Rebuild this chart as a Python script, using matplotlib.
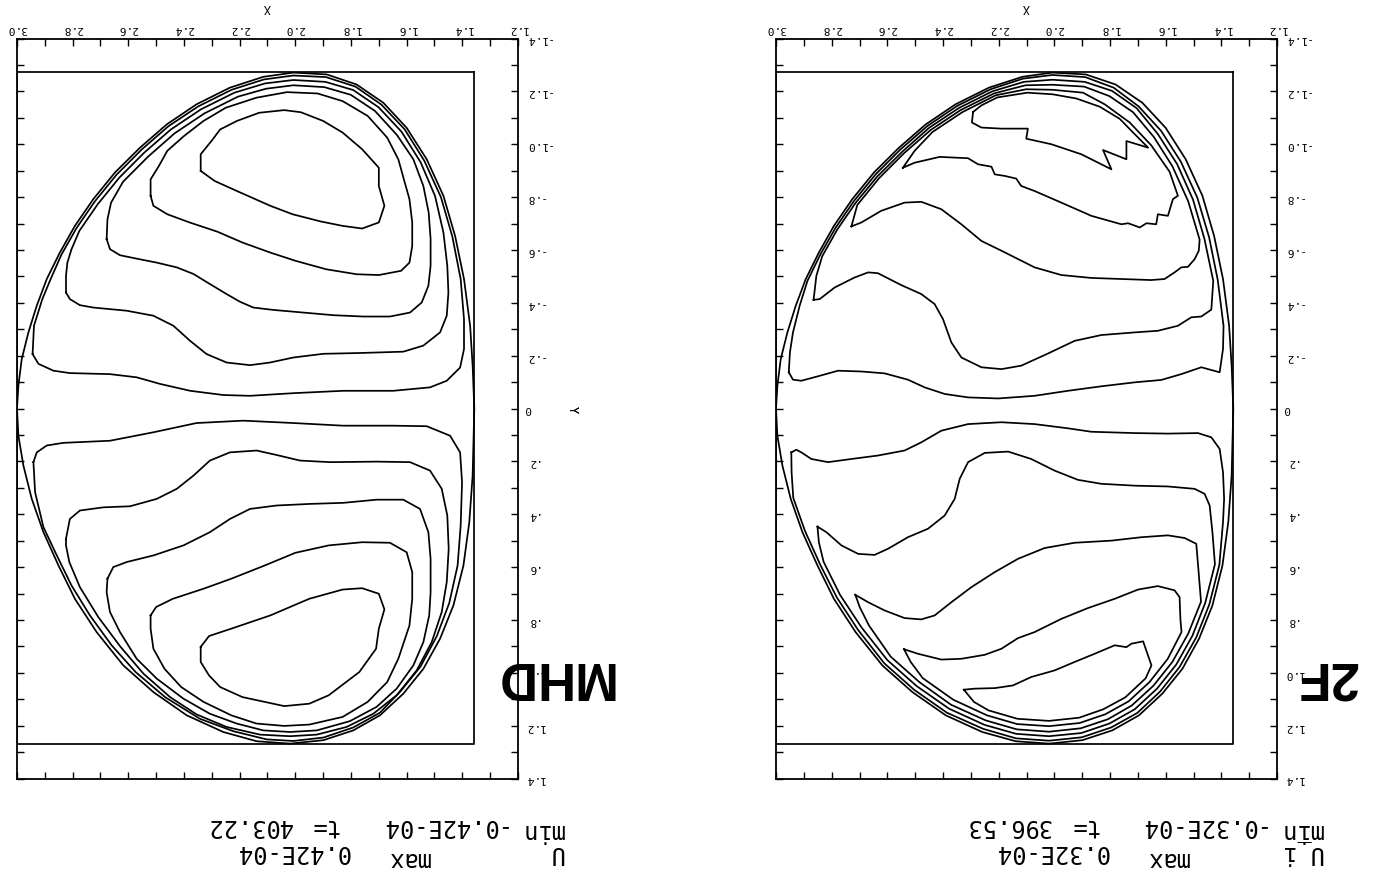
import matplotlib
matplotlib.use("Agg")
import matplotlib.pyplot as plt
from matplotlib.ticker import MultipleLocator

# ---------------- data ----------------
# domain wall contour (outermost line, same in both panels)
wall_x = [3.000, 2.995, 2.983, 2.959, 2.929, 2.893, 2.846, 2.792, 2.726, 2.648, 2.558, 2.462, 2.355,
          2.235, 2.115, 2.007, 1.887, 1.780, 1.684, 1.600, 1.528, 1.468, 1.426, 1.394, 1.372, 1.363,
          1.357, 1.363, 1.375, 1.396, 1.432, 1.480, 1.540, 1.612, 1.696, 1.792, 1.899, 2.019, 2.139,
          2.259, 2.390, 2.510, 2.618, 2.714, 2.792, 2.851, 2.905, 2.947, 2.977, 2.995, 3.000]
wall_y = [0.000, -0.086, -0.187, -0.288, -0.389, -0.490, -0.590, -0.691, -0.792, -0.893, -0.987,
          -1.075, -1.151, -1.214, -1.255, -1.271, -1.264, -1.226, -1.157, -1.062, -0.943, -0.805,
          -0.653, -0.490, -0.313, -0.162, 0.000, 0.254, 0.430, 0.594, 0.745, 0.871, 0.985, 1.079,
          1.161, 1.218, 1.255, 1.268, 1.259, 1.224, 1.161, 1.073, 0.972, 0.846, 0.720, 0.594, 0.468,
          0.342, 0.216, 0.103, 0.000]
box_x = [1.357, 3.0]
box_y = [-1.274, 1.270]

# MHD panel, upper half contours
mhd_u1_x = [2.34, 2.34, 2.30, 2.27, 2.21, 2.13, 2.04, 1.98, 1.90, 1.83, 1.76, 1.70, 1.70, 1.68, 1.70,
            1.76, 1.83, 1.91, 2.01, 2.09, 2.21, 2.29, 2.34]
mhd_u1_y = [-0.899, -0.962, -1.014, -1.056, -1.088, -1.119, -1.129, -1.121, -1.088, -1.044, -0.981,
            -0.911, -0.842, -0.767, -0.704, -0.681, -0.691, -0.708, -0.735, -0.767, -0.823, -0.861, -0.899]
mhd_u2_x = [2.52, 2.52, 2.49, 2.46, 2.40, 2.33, 2.25, 2.14, 2.03, 1.92, 1.83, 1.74, 1.67, 1.63, 1.61,
            1.59, 1.58, 1.58, 1.59, 1.62, 1.70, 1.78, 1.89, 2.00, 2.09, 2.19, 2.28, 2.38, 2.46, 2.51, 2.52]
mhd_u2_y = [-0.805, -0.867, -0.918, -0.975, -1.031, -1.088, -1.138, -1.176, -1.197, -1.192, -1.163,
            -1.107, -1.025, -0.943, -0.867, -0.792, -0.704, -0.615, -0.552, -0.521, -0.505, -0.508,
            -0.527, -0.559, -0.590, -0.628, -0.669, -0.704, -0.735, -0.767, -0.805]
mhd_u3_x = [2.678, 2.675, 2.662, 2.619, 2.529, 2.434, 2.326, 2.206, 2.105, 2.007, 1.896, 1.801, 1.714,
            1.635, 1.576, 1.540, 1.521, 1.514, 1.514, 1.522, 1.546, 1.588, 1.660, 1.756, 1.863, 1.971,
            2.079, 2.151, 2.199, 2.247, 2.307, 2.366, 2.426, 2.498, 2.570, 2.630, 2.666, 2.678]
mhd_u3_y = [-0.641, -0.716, -0.779, -0.858, -0.953, -1.041, -1.117, -1.180, -1.210, -1.223, -1.216,
            -1.187, -1.126, -1.035, -0.943, -0.842, -0.742, -0.641, -0.540, -0.464, -0.401, -0.363,
            -0.348, -0.348, -0.353, -0.363, -0.373, -0.382, -0.404, -0.433, -0.471, -0.509, -0.534,
            -0.552, -0.567, -0.580, -0.603, -0.641]
mhd_u4_x = [2.824, 2.824, 2.819, 2.804, 2.776, 2.710, 2.632, 2.543, 2.447, 2.339, 2.219, 2.109, 2.007,
            1.892, 1.792, 1.701, 1.619, 1.550, 1.498, 1.468, 1.454, 1.450, 1.456, 1.480, 1.540, 1.612,
            1.768, 1.899, 2.007, 2.091, 2.163, 2.247, 2.319, 2.378, 2.438, 2.510, 2.606, 2.726, 2.774,
            2.810, 2.824]
mhd_u4_y = [-0.439, -0.502, -0.552, -0.603, -0.672, -0.773, -0.874, -0.968, -1.056, -1.132, -1.195,
            -1.230, -1.243, -1.236, -1.205, -1.140, -1.048, -0.932, -0.804, -0.666, -0.540, -0.439,
            -0.351, -0.288, -0.238, -0.215, -0.210, -0.207, -0.193, -0.174, -0.164, -0.174, -0.206,
            -0.256, -0.313, -0.351, -0.370, -0.382, -0.391, -0.414, -0.439]
mhd_u5_x = [2.944, 2.939, 2.909, 2.879, 2.840, 2.786, 2.720, 2.642, 2.552, 2.456, 2.349, 2.229, 2.113,
            2.007, 1.890, 1.784, 1.691, 1.607, 1.537, 1.477, 1.436, 1.406, 1.394, 1.394, 1.408, 1.456,
            1.516, 1.648, 1.828, 2.007, 2.163, 2.259, 2.378, 2.486, 2.570, 2.666, 2.810, 2.869, 2.923,
            2.944]
mhd_u5_y = [-0.206, -0.313, -0.414, -0.490, -0.583, -0.683, -0.784, -0.885, -0.980, -1.068, -1.143,
            -1.206, -1.245, -1.260, -1.254, -1.218, -1.150, -1.056, -0.938, -0.800, -0.651, -0.490,
            -0.338, -0.225, -0.155, -0.105, -0.080, -0.067, -0.067, -0.058, -0.048, -0.051, -0.067,
            -0.093, -0.118, -0.130, -0.134, -0.143, -0.169, -0.206]

# MHD panel, lower half contours
mhd_l1_x = [2.34, 2.34, 2.31, 2.27, 2.19, 2.04, 1.95, 1.88, 1.77, 1.71, 1.70, 1.68, 1.70, 1.76, 1.83,
            1.95, 2.09, 2.23, 2.31, 2.34]
mhd_l1_y = [0.902, 0.959, 1.010, 1.054, 1.092, 1.126, 1.117, 1.085, 0.997, 0.909, 0.833, 0.760, 0.701,
            0.680, 0.685, 0.720, 0.783, 0.833, 0.861, 0.902]
mhd_l2_x = [2.52, 2.50, 2.44, 2.33, 2.23, 2.11, 2.00, 1.88, 1.76, 1.66, 1.60, 1.58, 1.58, 1.59, 1.63,
            1.67, 1.74, 1.83, 1.95, 2.04, 2.14, 2.23, 2.33, 2.41, 2.47, 2.51, 2.52, 2.52]
mhd_l2_y = [0.783, 0.751, 0.720, 0.682, 0.644, 0.594, 0.546, 0.518, 0.506, 0.508, 0.544, 0.619, 0.720,
            0.821, 0.947, 1.035, 1.110, 1.167, 1.196, 1.201, 1.192, 1.161, 1.110, 1.054, 0.985, 0.909,
            0.833, 0.783]
mhd_l3_x = [2.675, 2.654, 2.606, 2.510, 2.402, 2.307, 2.235, 2.163, 2.067, 1.947, 1.828, 1.708, 1.612,
            1.552, 1.522, 1.514, 1.514, 1.519, 1.540, 1.576, 1.636, 1.708, 1.804, 1.923, 2.019, 2.115,
            2.211, 2.307, 2.402, 2.498, 2.570, 2.630, 2.666, 2.678, 2.675]
mhd_l3_y = [0.644, 0.600, 0.581, 0.556, 0.518, 0.468, 0.418, 0.380, 0.367, 0.361, 0.357, 0.345, 0.345,
            0.380, 0.468, 0.569, 0.695, 0.783, 0.884, 0.972, 1.060, 1.129, 1.183, 1.218, 1.224, 1.218,
            1.192, 1.155, 1.098, 1.022, 0.947, 0.846, 0.770, 0.695, 0.644]
mhd_l4_x = [2.824, 2.810, 2.774, 2.690, 2.594, 2.498, 2.426, 2.366, 2.307, 2.235, 2.139, 2.067, 1.983,
            1.875, 1.708, 1.588, 1.516, 1.474, 1.454, 1.449, 1.456, 1.474, 1.510, 1.564, 1.636, 1.720,
            1.816, 1.923, 2.019, 2.127, 2.247, 2.354, 2.450, 2.546, 2.628, 2.708, 2.774, 2.812, 2.824,
            2.824]
mhd_l4_y = [0.493, 0.418, 0.386, 0.374, 0.370, 0.342, 0.304, 0.254, 0.197, 0.166, 0.159, 0.176, 0.197,
            0.203, 0.201, 0.203, 0.235, 0.304, 0.405, 0.531, 0.657, 0.770, 0.884, 0.991, 1.085, 1.155,
            1.205, 1.234, 1.240, 1.234, 1.205, 1.158, 1.092, 1.003, 0.902, 0.789, 0.676, 0.581, 0.518,
            0.493]
mhd_l5_x = [2.941, 2.935, 2.905, 2.857, 2.804, 2.738, 2.660, 2.574, 2.468, 2.343, 2.223, 2.103, 2.007,
            1.899, 1.792, 1.696, 1.622, 1.550, 1.492, 1.447, 1.417, 1.406, 1.401, 1.408, 1.444, 1.528,
            1.648, 1.828, 2.007, 2.187, 2.355, 2.510, 2.666, 2.834, 2.893, 2.929, 2.941]
mhd_l5_y = [0.203, 0.317, 0.449, 0.556, 0.670, 0.783, 0.896, 0.997, 1.092, 1.174, 1.221, 1.252, 1.258,
            1.245, 1.207, 1.151, 1.070, 0.976, 0.862, 0.736, 0.594, 0.443, 0.279, 0.166, 0.103, 0.067,
            0.065, 0.065, 0.055, 0.046, 0.055, 0.090, 0.122, 0.130, 0.140, 0.166, 0.203]

# 2F panel, upper half contours
tf_u1_x = [2.292, 2.296, 2.262, 2.190, 2.095, 2.101, 2.011, 1.903, 1.795, 1.825, 1.741, 1.741, 1.663,
           1.714, 1.765, 1.837, 1.921, 2.007, 2.097, 2.205, 2.262, 2.292]
tf_u1_y = [-1.122, -1.082, -1.063, -1.059, -1.059, -1.021, -1.000, -0.962, -0.905, -0.978, -0.943,
           -1.012, -0.987, -1.041, -1.096, -1.142, -1.173, -1.189, -1.195, -1.177, -1.147, -1.122]
tf_u2_x = [2.544, 2.502, 2.412, 2.310, 2.274, 2.226, 2.214, 2.178, 2.137, 2.119, 2.071, 1.975, 1.867,
           1.759, 1.735, 1.693, 1.669, 1.634, 1.628, 1.592, 1.574, 1.556, 1.586, 1.652, 1.729, 1.819,
           1.897, 2.007, 2.101, 2.211, 2.331, 2.438, 2.502, 2.544]
tf_u2_y = [-0.911, -0.930, -0.952, -0.947, -0.924, -0.915, -0.886, -0.880, -0.870, -0.842, -0.823,
           -0.779, -0.729, -0.697, -0.701, -0.685, -0.701, -0.697, -0.735, -0.729, -0.792, -0.805,
           -0.896, -0.996, -1.082, -1.151, -1.195, -1.206, -1.208, -1.185, -1.121, -1.046, -0.975, -0.911]
tf_u3_x = [2.729, 2.693, 2.622, 2.538, 2.478, 2.406, 2.334, 2.262, 2.190, 2.071, 1.975, 1.867, 1.759,
           1.652, 1.604, 1.568, 1.544, 1.520, 1.496, 1.481, 1.478, 1.519, 1.576, 1.643, 1.717, 1.802,
           1.893, 2.007, 2.104, 2.217, 2.337, 2.444, 2.540, 2.630, 2.708, 2.729]
tf_u3_y = [-0.689, -0.704, -0.748, -0.779, -0.782, -0.754, -0.697, -0.634, -0.597, -0.534, -0.505,
           -0.494, -0.490, -0.486, -0.490, -0.515, -0.534, -0.536, -0.565, -0.597, -0.639, -0.784,
           -0.917, -1.028, -1.121, -1.182, -1.218, -1.225, -1.223, -1.192, -1.129, -1.054, -0.966,
           -0.871, -0.770, -0.689]
tf_u4_x = [2.865, 2.843, 2.789, 2.717, 2.669, 2.634, 2.550, 2.478, 2.430, 2.400, 2.370, 2.334, 2.262,
           2.190, 2.119, 2.023, 1.927, 1.831, 1.711, 1.628, 1.556, 1.508, 1.472, 1.436, 1.429, 1.461,
           1.502, 1.559, 1.629, 1.704, 1.793, 1.891, 2.007, 2.109, 2.223, 2.343, 2.450, 2.546, 2.636,
           2.714, 2.780, 2.834, 2.855, 2.865]
tf_u4_y = [-0.411, -0.414, -0.458, -0.496, -0.515, -0.512, -0.467, -0.433, -0.395, -0.338, -0.250,
           -0.193, -0.156, -0.149, -0.162, -0.208, -0.256, -0.278, -0.288, -0.294, -0.313, -0.345,
           -0.348, -0.374, -0.483, -0.643, -0.791, -0.925, -1.040, -1.136, -1.202, -1.236, -1.244,
           -1.236, -1.200, -1.137, -1.062, -0.972, -0.878, -0.778, -0.677, -0.576, -0.502, -0.411]
tf_u5_x = [2.954, 2.939, 2.909, 2.849, 2.777, 2.693, 2.610, 2.526, 2.466, 2.394, 2.310, 2.202, 2.071,
           1.951, 1.831, 1.711, 1.616, 1.544, 1.472, 1.406, 1.394, 1.392, 1.413, 1.444, 1.486, 1.545,
           1.616, 1.697, 1.787, 1.889, 2.007, 2.113, 2.229, 2.349, 2.456, 2.552, 2.642, 2.720, 2.786,
           2.840, 2.887, 2.915, 2.939, 2.950, 2.954]
tf_u5_y = [-0.137, -0.109, -0.105, -0.122, -0.143, -0.140, -0.133, -0.109, -0.080, -0.055, -0.042,
           -0.038, -0.048, -0.067, -0.084, -0.099, -0.108, -0.130, -0.156, -0.137, -0.225, -0.312,
           -0.487, -0.648, -0.797, -0.933, -1.050, -1.143, -1.214, -1.254, -1.262, -1.248, -1.208,
           -1.145, -1.069, -0.981, -0.886, -0.785, -0.684, -0.584, -0.483, -0.389, -0.288, -0.212, -0.137]

# 2F panel, lower half contours
tf_l1_x = [2.325, 2.286, 2.214, 2.149, 2.083, 1.999, 1.927, 1.855, 1.783, 1.741, 1.723, 1.681, 1.651,
           1.672, 1.745, 1.824, 1.911, 2.019, 2.133, 2.237, 2.289, 2.325]
tf_l1_y = [1.064, 1.060, 1.058, 1.048, 1.016, 0.991, 0.959, 0.928, 0.896, 0.903, 0.890, 0.881, 0.972,
           1.021, 1.093, 1.138, 1.170, 1.182, 1.174, 1.142, 1.110, 1.064]
tf_l2_x = [2.540, 2.490, 2.406, 2.334, 2.250, 2.190, 2.131, 2.071, 1.975, 1.879, 1.783, 1.699, 1.628,
           1.568, 1.550, 1.547, 1.543, 1.593, 1.658, 1.733, 1.817, 1.909, 2.019, 2.134, 2.242, 2.363,
           2.473, 2.516, 2.540]
tf_l2_y = [0.911, 0.928, 0.950, 0.947, 0.932, 0.909, 0.869, 0.846, 0.796, 0.755, 0.720, 0.685, 0.672,
           0.688, 0.714, 0.798, 0.846, 0.948, 1.035, 1.108, 1.157, 1.190, 1.202, 1.194, 1.161, 1.102,
           1.020, 0.959, 0.911]
tf_l3_x = [2.715, 2.669, 2.610, 2.538, 2.478, 2.430, 2.370, 2.298, 2.214, 2.131, 2.035, 1.927, 1.795,
           1.687, 1.592, 1.532, 1.490, 1.484, 1.473, 1.519, 1.576, 1.644, 1.722, 1.808, 1.905, 2.019,
           2.135, 2.247, 2.371, 2.484, 2.588, 2.666, 2.699, 2.715]
tf_l3_y = [0.705, 0.733, 0.764, 0.793, 0.798, 0.783, 0.733, 0.676, 0.619, 0.569, 0.528, 0.508, 0.500,
           0.487, 0.480, 0.490, 0.512, 0.588, 0.731, 0.852, 0.959, 1.049, 1.124, 1.176, 1.210, 1.223,
           1.214, 1.180, 1.121, 1.036, 0.939, 0.821, 0.752, 0.705]
tf_l4_x = [2.851, 2.819, 2.765, 2.705, 2.646, 2.598, 2.526, 2.454, 2.394, 2.358, 2.340, 2.310, 2.250,
           2.166, 2.083, 1.999, 1.915, 1.831, 1.711, 1.592, 1.496, 1.460, 1.442, 1.432, 1.423, 1.458,
           1.504, 1.562, 1.631, 1.711, 1.802, 1.903, 2.019, 2.137, 2.251, 2.378, 2.495, 2.600, 2.693,
           2.770, 2.829, 2.846, 2.851]
tf_l4_y = [0.447, 0.468, 0.518, 0.550, 0.554, 0.531, 0.487, 0.455, 0.405, 0.342, 0.266, 0.203, 0.168,
           0.163, 0.191, 0.235, 0.270, 0.285, 0.292, 0.295, 0.304, 0.323, 0.367, 0.468, 0.589, 0.736,
           0.860, 0.969, 1.060, 1.138, 1.192, 1.228, 1.240, 1.231, 1.197, 1.136, 1.050, 0.952, 0.828,
           0.705, 0.580, 0.506, 0.447]
tf_l5_x = [2.945, 2.927, 2.909, 2.873, 2.813, 2.729, 2.634, 2.538, 2.478, 2.406, 2.310, 2.190, 2.071,
           1.951, 1.867, 1.711, 1.592, 1.484, 1.436, 1.406, 1.394, 1.390, 1.394, 1.407, 1.443, 1.490,
           1.550, 1.620, 1.702, 1.796, 1.901, 2.019, 2.138, 2.256, 2.386, 2.504, 2.611, 2.705, 2.782,
           2.842, 2.896, 2.938, 2.944, 2.945]
tf_l5_y = [0.166, 0.156, 0.166, 0.191, 0.203, 0.191, 0.178, 0.159, 0.128, 0.084, 0.059, 0.052, 0.059,
           0.075, 0.088, 0.093, 0.095, 0.093, 0.109, 0.153, 0.241, 0.342, 0.430, 0.591, 0.741, 0.866,
           0.978, 1.071, 1.152, 1.207, 1.244, 1.257, 1.248, 1.212, 1.151, 1.064, 0.964, 0.838, 0.714,
           0.589, 0.463, 0.338, 0.241, 0.166]

# ticks and labels
x_ticks = [1.2, 1.4, 1.6, 1.8, 2.0, 2.2, 2.4, 2.6, 2.8, 3.0]
x_tick_labels = ["1.2", "1.4", "1.6", "1.8", "2.0", "2.2", "2.4", "2.6", "2.8", "3.0"]
y_ticks = [-1.4, -1.2, -1.0, -0.8, -0.6, -0.4, -0.2, 0.0, 0.2, 0.4, 0.6, 0.8, 1.0, 1.2, 1.4]
y_tick_labels = ["-1.4", "-1.2", "-1.0", "-.8", "-.6", "-.4", "-.2", "0", ".2", ".4", ".6", ".8",
                 "1.0", "1.2", "1.4"]
panel_titles = ["MHD", "2F"]
field_names = ["U", "U_i"]
max_values = ["0.42E-04", "0.32E-04"]
min_values = ["-0.42E-04", "-0.32E-04"]
time_values = ["403.22", "396.53"]

# ---------------- drawing ----------------
W, H = 1378, 878
fig = plt.figure(figsize=(W / 100, H / 100), dpi=100)
fig.patch.set_facecolor("white")
MONO = "DejaVu Sans Mono"
LW = 1.25

mhd_lines = [(mhd_u1_x, mhd_u1_y), (mhd_u2_x, mhd_u2_y), (mhd_u3_x, mhd_u3_y), (mhd_u4_x, mhd_u4_y),
             (mhd_u5_x, mhd_u5_y), (mhd_l1_x, mhd_l1_y), (mhd_l2_x, mhd_l2_y), (mhd_l3_x, mhd_l3_y),
             (mhd_l4_x, mhd_l4_y), (mhd_l5_x, mhd_l5_y)]
tf_lines = [(tf_u1_x, tf_u1_y), (tf_u2_x, tf_u2_y), (tf_u3_x, tf_u3_y), (tf_u4_x, tf_u4_y),
            (tf_u5_x, tf_u5_y), (tf_l1_x, tf_l1_y), (tf_l2_x, tf_l2_y), (tf_l3_x, tf_l3_y),
            (tf_l4_x, tf_l4_y), (tf_l5_x, tf_l5_y)]
title_centres = [(553, 676), (1326, 676)]


def ftext(px, py, s, **kw):
    return fig.text(px / W, 1 - py / H, s, **kw)


def make_panel(left_px, lines, idx):
    ax = fig.add_axes([left_px / W, (H - 779.5) / H, 501 / W, 740 / H])
    ax.set_xlim(3.0, 1.2)
    ax.set_ylim(1.4, -1.4)
    bx = [box_x[0], box_x[1], box_x[1], box_x[0], box_x[0]]
    by = [box_y[0], box_y[0], box_y[1], box_y[1], box_y[0]]
    ax.plot(bx, by, color="black", lw=LW)
    ax.plot(wall_x, wall_y, color="black", lw=LW)
    for cx, cy in lines:
        ax.plot(cx, cy, color="black", lw=LW)

    for sp in ax.spines.values():
        sp.set_linewidth(1.3)

    ax.set_xticks(x_ticks)
    ax.set_xticklabels(x_tick_labels, rotation=180, fontsize=8, family=MONO)
    ax.xaxis.set_minor_locator(MultipleLocator(0.1))
    ax.tick_params(axis="x", which="both", direction="in", top=True, bottom=True,
                   labeltop=True, labelbottom=False, length=5, width=1, pad=4)
    ax.set_yticks(y_ticks)
    ax.set_yticklabels(y_tick_labels, rotation=180, fontsize=8, family=MONO, va="center")
    ax.yaxis.set_minor_locator(MultipleLocator(0.1))
    ax.tick_params(axis="y", which="both", direction="in", left=True, right=True,
                   labelleft=False, labelright=True, length=5, width=1, pad=5)

    ax.set_xlabel("X", rotation=180, fontsize=8.5, family=MONO)
    ax.xaxis.set_label_position("top")
    ax.xaxis.set_label_coords(0.5, 1 + (39.5 - 8) / 740)
    ax.xaxis.label.set_va("center")
    ax.set_ylabel("Y", rotation=270, fontsize=8.5, family=MONO)
    ax.yaxis.set_label_position("right")
    ax.yaxis.set_label_coords((572 - left_px) / 501, 0.5)
    ax.yaxis.label.set_va("center")
    ax.yaxis.label.set_ha("center")

    off = left_px - 17
    tk = dict(rotation=180, rotation_mode="anchor", ha="left", va="baseline",
              fontsize=17, family=MONO)
    ftext(563.5 + off, 823.7, "min", **tk)
    ftext(505 + off, 818.7, min_values[idx], **tk)
    ftext(339 + off, 818.7, "t=", **tk)
    ftext(291.5 + off, 818.7, time_values[idx], **tk)
    ftext(563.5 + off, 846.5, field_names[idx], **tk)
    ftext(429.5 + off, 852, "max", **tk)
    ftext(349.5 + off, 845.3, max_values[idx], **tk)

    tx, ty = title_centres[idx]
    ftext(tx, ty, panel_titles[idx], rotation=180, ha="center", va="center",
          fontsize=38, fontweight="bold", family="Liberation Sans", zorder=10)
    return ax


make_panel(17, mhd_lines, 0)
make_panel(776, tf_lines, 1)

fig.savefig("out.png", dpi=100, facecolor="white")
